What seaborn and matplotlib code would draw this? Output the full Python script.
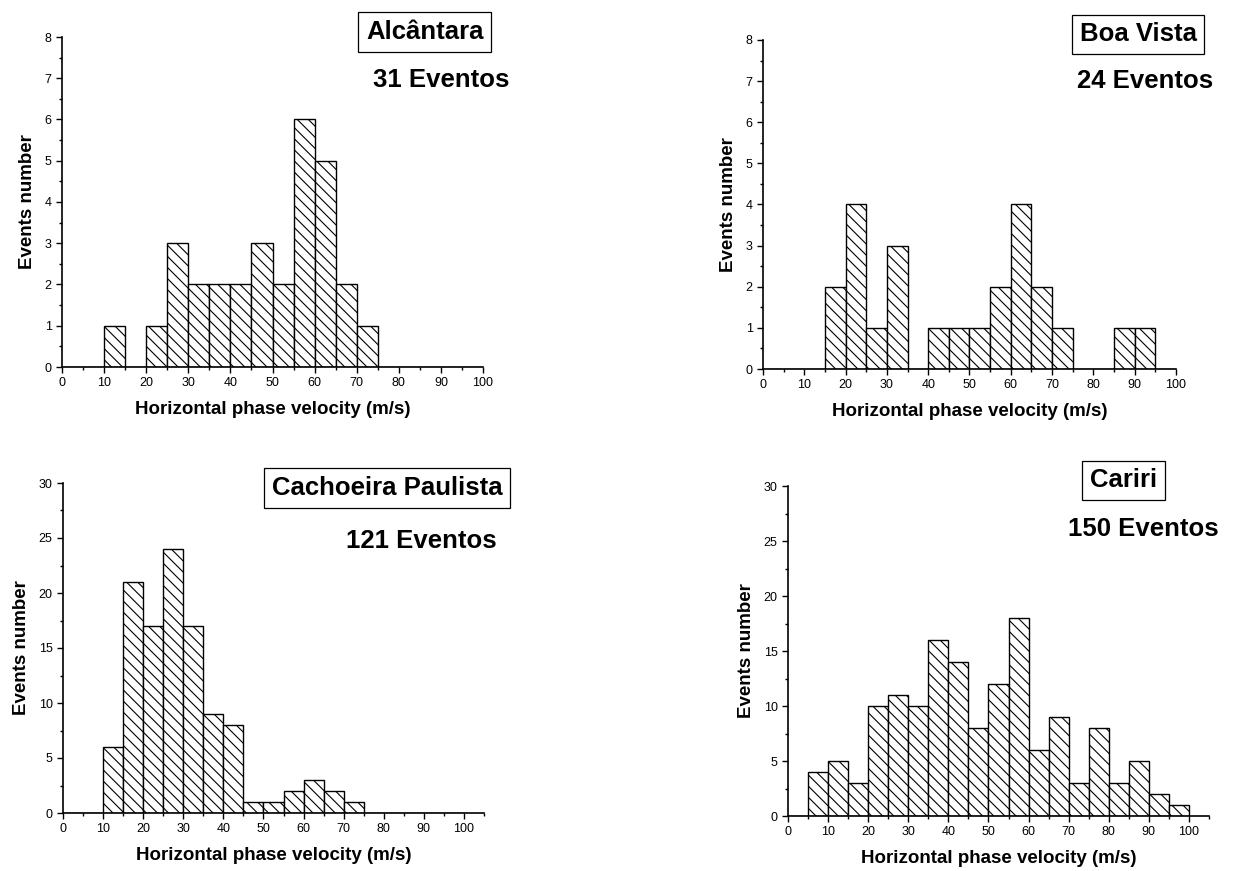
import numpy as np
import pandas as pd
import matplotlib
matplotlib.use("Agg")
import matplotlib.pyplot as plt
import seaborn as sns
from matplotlib.ticker import MultipleLocator

# Bin left edges (5 m/s bins)
bin_left = [0, 5, 10, 15, 20, 25, 30, 35, 40, 45, 50, 55, 60, 65, 70, 75, 80, 85, 90, 95]

alcantara = [0, 0, 1, 0, 1, 3, 2, 2, 2, 3, 2, 6, 5, 2, 1, 0, 0, 0, 0, 0]
boa_vista = [0, 0, 0, 2, 4, 1, 3, 0, 1, 1, 1, 2, 4, 2, 1, 0, 0, 1, 1, 0]
cachoeira = [0, 0, 6, 21, 17, 24, 17, 9, 8, 1, 1, 2, 3, 2, 1, 0, 0, 0, 0, 0]
cariri = [0, 4, 5, 3, 10, 11, 10, 16, 14, 8, 12, 18, 6, 9, 3, 8, 3, 5, 2, 1]

stations = ["Alcântara", "Boa Vista", "Cachoeira Paulista", "Cariri"]
event_labels = ["31 Eventos", "24 Eventos", "121 Eventos", "150 Eventos"]
xlabel = "Horizontal phase velocity (m/s)"
ylabel = "Events number"

sns.set_theme(style="ticks")
plt.rcParams['font.family'] = ['Liberation Sans', 'DejaVu Sans']
plt.rcParams['hatch.linewidth'] = 0.8
for k in ['text.color', 'axes.labelcolor', 'xtick.color', 'ytick.color', 'axes.edgecolor']:
    plt.rcParams[k] = 'black'

fig = plt.figure(figsize=(12.33, 8.71), dpi=100)
W, H = 1233, 871

def make_ax(l, r, t, b):
    return fig.add_axes([l / W, 1 - b / H, (r - l) / W, (b - t) / H])

axes_px = [(62, 483, 37, 367), (763, 1176, 40, 369), (63, 484, 483, 813), (788, 1209, 486, 816)]
xmax = [100, 100, 105, 105]
ymax = [8, 8, 30, 30]
ymajor = [1, 1, 5, 5]
yminor = [0.5, 0.5, 2.5, 2.5]
box_pos = [(0.862, 1.015), (0.908, 1.017), (0.77, 0.985), (0.797, 1.017)]
ev_pos = [(0.90, 0.87), (0.925, 0.875), (0.85, 0.824), (0.845, 0.87)]
data = [alcantara, boa_vista, cachoeira, cariri]

for i, counts in enumerate(data):
    ax = make_ax(*axes_px[i])
    df = pd.DataFrame({"v": np.array(bin_left) + 2.5, "n": counts})
    df = df[df["n"] > 0]
    sns.histplot(data=df, x="v", weights="n", binwidth=5, binrange=(0, 100),
                 color="white", edgecolor="black", linewidth=1.0, alpha=1,
                 hatch="\\\\\\", ax=ax)
    ax.set_xlim(0, xmax[i])
    ax.set_ylim(0, ymax[i])
    ax.xaxis.set_major_locator(MultipleLocator(10))
    ax.xaxis.set_minor_locator(MultipleLocator(5))
    ax.yaxis.set_major_locator(MultipleLocator(ymajor[i]))
    ax.yaxis.set_minor_locator(MultipleLocator(yminor[i]))
    ax.tick_params(which="major", direction="out", length=4.5, width=1, labelsize=9, pad=3)
    ax.tick_params(which="minor", direction="out", length=2.5, width=1)
    for s in ["top", "right"]:
        ax.spines[s].set_visible(False)
    for s in ["left", "bottom"]:
        ax.spines[s].set_linewidth(1.2)
    ax.set_xlabel(xlabel, fontsize=13.5, fontweight="bold", labelpad=8)
    ax.set_ylabel(ylabel, fontsize=13.5, fontweight="bold", labelpad=6)
    ax.text(*box_pos[i], stations[i], transform=ax.transAxes, ha="center", va="center",
            fontsize=18.5, fontweight="bold", clip_on=False,
            bbox=dict(boxstyle="square,pad=0.3", facecolor="white", edgecolor="black", linewidth=0.9))
    ax.text(*ev_pos[i], event_labels[i], transform=ax.transAxes, ha="center", va="center",
            fontsize=18.5, fontweight="bold")

fig.savefig("out.png", dpi=100)
